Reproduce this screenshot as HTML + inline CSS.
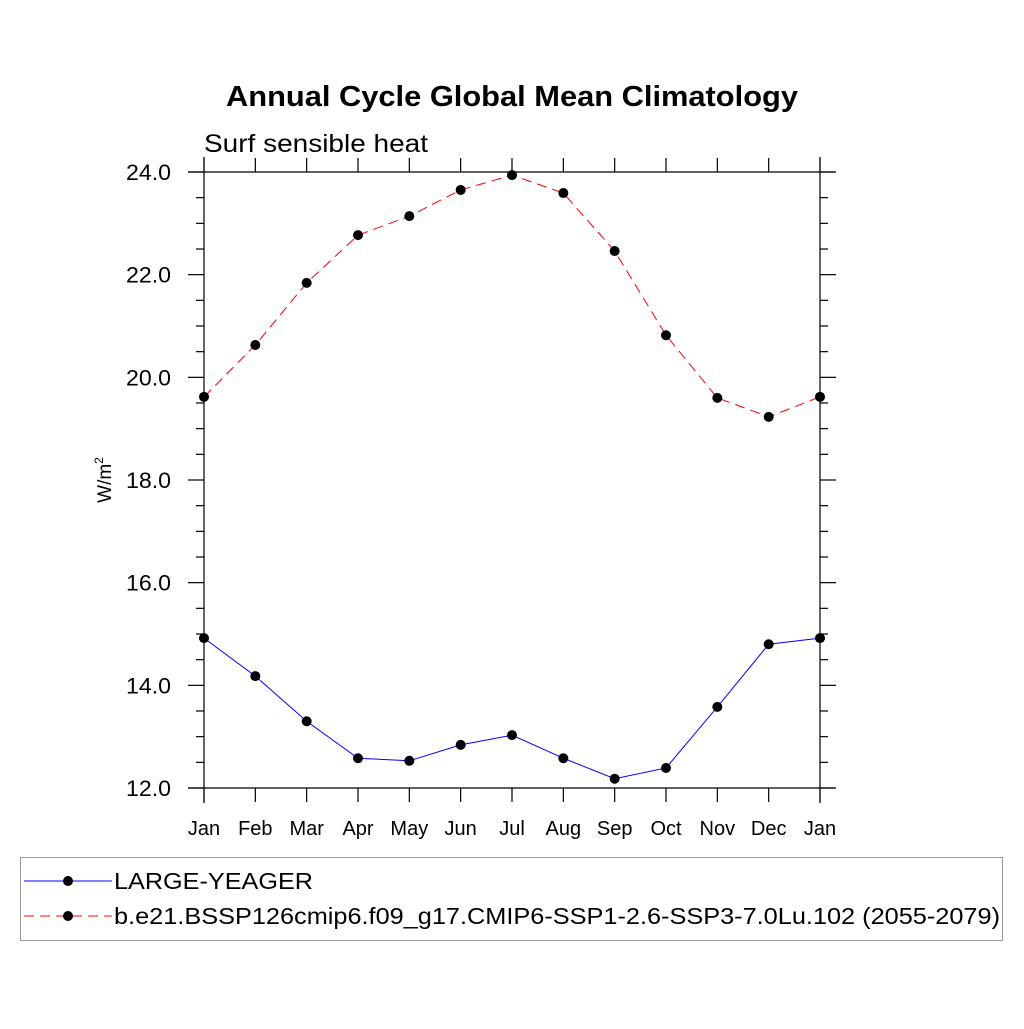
<!DOCTYPE html>
<html><head><meta charset="utf-8"><style>
html,body{margin:0;padding:0;background:#fff;}
svg text{font-family:"Liberation Sans",sans-serif;}
</style></head><body>
<svg width="1024" height="1024" xmlns="http://www.w3.org/2000/svg">
<text x="226" y="106" textLength="572" lengthAdjust="spacingAndGlyphs" font-size="29" font-weight="bold">Annual Cycle Global Mean Climatology</text>
<text x="204" y="152" textLength="224" lengthAdjust="spacingAndGlyphs" font-size="25">Surf sensible heat</text>
<text transform="translate(111,480) rotate(-90)" text-anchor="middle" font-size="19">W/m<tspan font-size="12" dy="-8">2</tspan></text>
<g id="axes"></g>
<g id="series"></g>
<g>
<rect x="20.5" y="857.5" width="982" height="83" fill="none" stroke="#999" stroke-width="1"/>
<g>
<line x1="24" y1="881" x2="112" y2="881" stroke="#0000ff" stroke-width="1"/>
<circle cx="68" cy="881" r="5" fill="#000"/>
<text x="114" y="889" font-size="23" textLength="199" lengthAdjust="spacingAndGlyphs">LARGE-YEAGER</text></g>
<g>
<line x1="24" y1="916" x2="112" y2="916" stroke="#ff0000" stroke-width="1" stroke-dasharray="10,6"/>
<circle cx="68" cy="916" r="5" fill="#000"/>
<text x="114" y="924" font-size="23" textLength="886" lengthAdjust="spacingAndGlyphs">b.e21.BSSP126cmip6.f09_g17.CMIP6-SSP1-2.6-SSP3-7.0Lu.102 (2055-2079)</text></g>
</g>
</svg>
<script>
const months=["Jan","Feb","Mar","Apr","May","Jun","Jul","Aug","Sep","Oct","Nov","Dec","Jan"];
const yTicks=[12,14,16,18,20,22,24];
const largeYeager=[14.92,14.18,13.3,12.58,12.53,12.84,13.03,12.58,12.18,12.39,13.58,14.8,14.92];
const ssp=[19.62,20.63,21.84,22.77,23.14,23.65,23.94,23.59,22.46,20.82,19.6,19.23,19.62];
const NS="http://www.w3.org/2000/svg";
const X0=204,X1=820,Y0=788,Y1=172,YMIN=12,YMAX=24;
const xs=i=>X0+(X1-X0)*i/(months.length-1);
const ys=v=>Y0-(v-YMIN)*(Y0-Y1)/(YMAX-YMIN);
const ax=document.getElementById('axes'),se=document.getElementById('series');
function mk(tag,at,p){const e=document.createElementNS(NS,tag);for(const k in at)e.setAttribute(k,at[k]);p.appendChild(e);return e;}
function ln(x1,y1,x2,y2,p){return mk('line',{x1,y1,x2,y2,stroke:'#000','stroke-width':1.2},p);}
ln(X0-16,Y1,X1+15,Y1,ax);ln(X0-16,Y0,X1+15,Y0,ax);
ln(X0,Y1-15,X0,Y0+15,ax);ln(X1,Y1-15,X1,Y0+15,ax);
months.forEach((m,i)=>{const x=xs(i);
ln(x,Y1,x,Y1-14,ax);ln(x,Y0,x,Y0+14,ax);
const t=mk('text',{x,y:835,'text-anchor':'middle','font-size':20},ax);t.textContent=m;

});
for(let v=YMIN;v<=YMAX+1e-9;v+=0.5){const y=ys(v);const major=Math.abs(v/2-Math.round(v/2))<1e-6;
const L=major?16:8;ln(X0,y,X0-L,y,ax);ln(X1,y,X1+L,y,ax);}
yTicks.forEach(v=>{const t=mk('text',{x:171,y:ys(v)+8,'text-anchor':'end','font-size':22,textLength:45,lengthAdjust:'spacingAndGlyphs'},ax);t.textContent=v.toFixed(1);

});
function series(data,color,dash,name){
const pts=data.map((v,i)=>xs(i)+','+ys(v)).join(' ');
const pl=mk('polyline',{points:pts,fill:'none',stroke:color,'stroke-width':1,'stroke-dasharray':dash},se);


data.forEach((v,i)=>{const c=mk('circle',{cx:xs(i),cy:ys(v),r:5,fill:'#000'},se);

});}
series(largeYeager,'#0000ff','none','large-yeager');
series(ssp,'#ff0000','10,6','ssp');
</script>
</body></html>
